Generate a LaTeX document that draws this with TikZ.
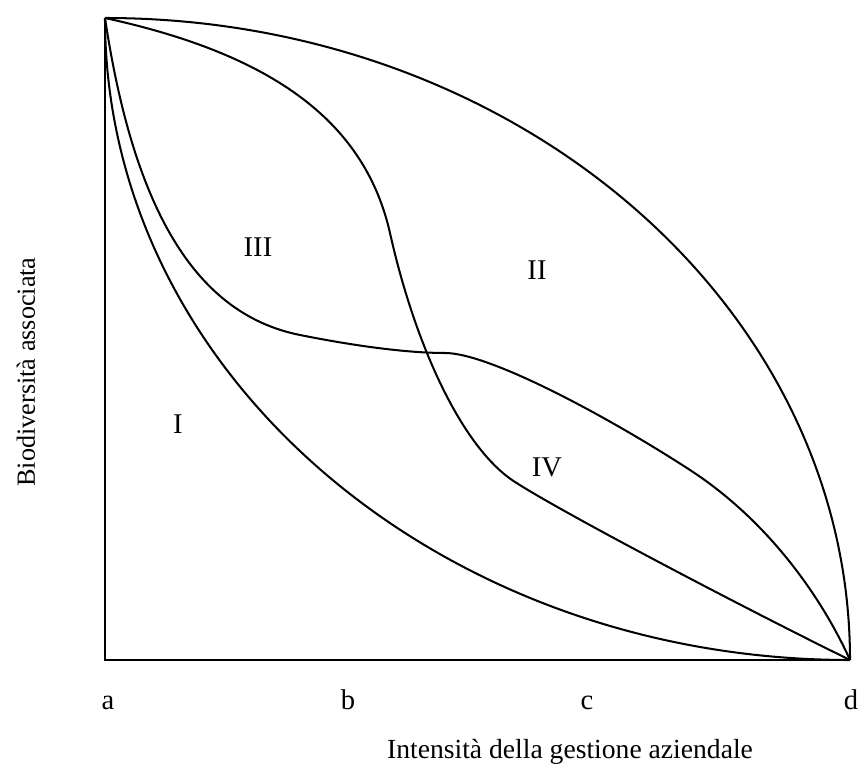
\documentclass[tikz,border=0pt]{standalone}
\usepackage{fontspec}
\setmainfont{Liberation Serif}
\usetikzlibrary{positioning}
\tikzset{
	curva/.style={
		line width=0.85pt,
		black
	},
	regione/.style={
		font=\fontsize{12}{14}\selectfont,
		inner sep=0pt
	},
	tacca/.style={
		font=\fontsize{12}{14}\selectfont,
		anchor=base,
		inner sep=0pt
	},
	titoloAsse/.style={
		font=\fontsize{11.6}{14}\selectfont,
		inner sep=0pt
	}
}
\begin{document}
\begin{tikzpicture}[x=0.42pt, y=-0.42pt]
	\useasboundingbox (0,0) rectangle (861,769);
	\coordinate (A) at (105,18);
	\coordinate (O) at (105,660);
	\coordinate (D) at (850,660);
	% assi
	\draw[curva] (A) -- (O) -- (D);
	% curve
	\draw[curva] (A) .. controls (516.5,18) and (850,305.4) .. (D);
	\draw[curva] (A) .. controls (105,372.6) and (438.5,660) .. (D);
	\draw[curva] (A) .. controls (275,55) and (365,123) .. (390,233)
		.. controls (415,345) and (462,448) .. (515,482)
		.. controls (568,516) and (760,616) .. (D);
	\draw[curva] (A) .. controls (135,218) and (200,315) .. (300,335)
		.. controls (360,347) and (410,353) .. (445,353)
		.. controls (490,353) and (610,418) .. (690,470)
		.. controls (770,522) and (823,600) .. (D);
	% regioni
	\node[regione] (r1) at (178,424) {I};
	\node[regione] (r2) at (537,270) {II};
	\node[regione] (r3) at (258,247) {III};
	\node[regione] (r4) at (547,467) {IV};
	% tacche
	\node[tacca] (ta) at (108,710) {a};
	\node[tacca] (tb) at (348,710) {b};
	\node[tacca] (tc) at (587,710) {c};
	\node[tacca] (td) at (851,710) {d};
	\node[titoloAsse] (tx) at (570,752) {Intensità della gestione aziendale};
	\node[titoloAsse, rotate=90, font=\fontsize{11}{13}\selectfont] (ty) at (26,372) {Biodiversità associata};
\end{tikzpicture}
\end{document}
